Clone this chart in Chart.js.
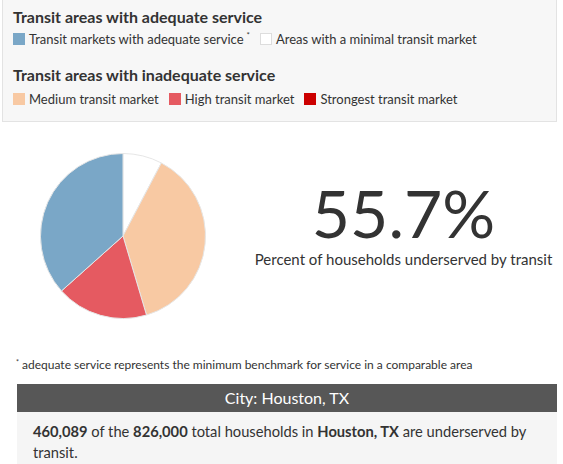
<!DOCTYPE html>
<html>
<head>
<meta charset="utf-8">
<script src="https://cdn.jsdelivr.net/npm/chart.js@4.4.0/dist/chart.umd.min.js"></script>
<style>
  body { margin: 0; width: 563px; height: 464px; background: #fff; font-family: Lato, "Open Sans", sans-serif; color: #333; position: relative; overflow: hidden; }
  .legend { position: absolute; left: 2px; top: -1px; width: 555px; height: 123px; background: #f7f7f7; border: 1px solid #e3e3e3; box-sizing: border-box; }
  .legend h3 { position: absolute; left: 10px; margin: 0; font-size: 16px; font-weight: 700; color: #333; }
  .legend .row { position: absolute; left: 10px; font-size: 13px; white-space: nowrap; }
  .legend .item { display: inline-block; margin-right: 10px; }
  .legend .sw { display: inline-block; width: 12px; height: 12px; vertical-align: -1px; margin-right: 4px; box-sizing: border-box; }
  .legend sup { font-size: 8px; vertical-align: 6px; margin-left: 3px; }
  #pieWrap { position: absolute; left: 40px; top: 153px; width: 166px; height: 166px; }
  .big { position: absolute; left: 255px; width: 297px; top: 173px; text-align: center; font-size: 66px; font-weight: 400; color: #333; line-height: 80px; }
  .sub { position: absolute; left: 245px; width: 317px; top: 250px; text-align: center; font-size: 15px; color: #333; }
  .foot { position: absolute; left: 16px; top: 357px; font-size: 12px; color: #333; }
  .foot sup { font-size: 7px; vertical-align: 4px; }
  .bar { position: absolute; left: 17px; top: 384px; width: 540px; height: 28px; background: #575757; color: #fff; font-size: 16px; text-align: center; line-height: 28px; }
  .info { position: absolute; left: 17px; top: 412px; width: 540px; height: 60px; background: #f5f5f5; font-size: 14.7px; line-height: 21px; padding: 9px 16px 0 16px; box-sizing: border-box; color: #333; }
  .info b { font-weight: 700; }
</style>
</head>
<body>
<div class="legend" id="legend"></div>

<div id="pieWrap"><canvas id="pie"></canvas></div>

<div class="big" id="big"></div>
<div class="sub">Percent of households underserved by transit</div>

<div class="foot"><sup>*</sup> adequate service represents the minimum benchmark for service in a comparable area</div>
<div class="bar">City: Houston, TX</div>
<div class="info"><b>460,089</b> of the <b>826,000</b> total households in <b>Houston, TX</b> are underserved by transit.</div>

<script>
// categories in drawing order (clockwise from 12 o'clock)
var categories = ['Areas with a minimal transit market', 'Medium transit market', 'High transit market', 'Strongest transit market', 'Transit markets with adequate service'];
var shares = [7.7, 37.7, 18.0, 0, 36.6];
var colors = ['#ffffff', '#f8c9a3', '#e55a61', '#cc0000', '#7aa7c7'];

var adequateGroup = ['Transit markets with adequate service', 'Areas with a minimal transit market'];
var inadequateGroup = ['Medium transit market', 'High transit market', 'Strongest transit market'];

var underservedPct = 55.7;

// legend
function legendRow(names) {
    return names.map(function (n) {
        var c = colors[categories.indexOf(n)];
        var border = c === '#ffffff' ? '1px solid #ddd' : 'none';
        var star = n === 'Transit markets with adequate service' ? '<sup>*</sup>' : '';
        return '<span class="item"><span class="sw" style="background:' + c + ';border:' + border + '"></span>' + n + star + '</span>';
    }).join('');
}
document.getElementById('legend').innerHTML =
    '<h3 style="top:7px">Transit areas with adequate service</h3>' +
    '<div class="row" style="top:30px">' + legendRow(adequateGroup) + '</div>' +
    '<h3 style="top:65px">Transit areas with inadequate service</h3>' +
    '<div class="row" style="top:91px">' + legendRow(inadequateGroup) + '</div>';

document.getElementById('big').textContent = underservedPct + '%';

var pieConfig = {
    type: 'pie',
    data: {
        labels: categories,
        datasets: [{
            data: shares,
            backgroundColor: colors,
            borderColor: '#e6e6e6',
            borderWidth: 1
        }]
    },
    options: {
        responsive: true,
        maintainAspectRatio: false,
        animation: false,
        plugins: { legend: { display: false }, tooltip: { enabled: false } },
        layout: { padding: 0 }
    }
};

var pieChart = new Chart(document.getElementById('pie'), pieConfig);
</script>
</body>
</html>
